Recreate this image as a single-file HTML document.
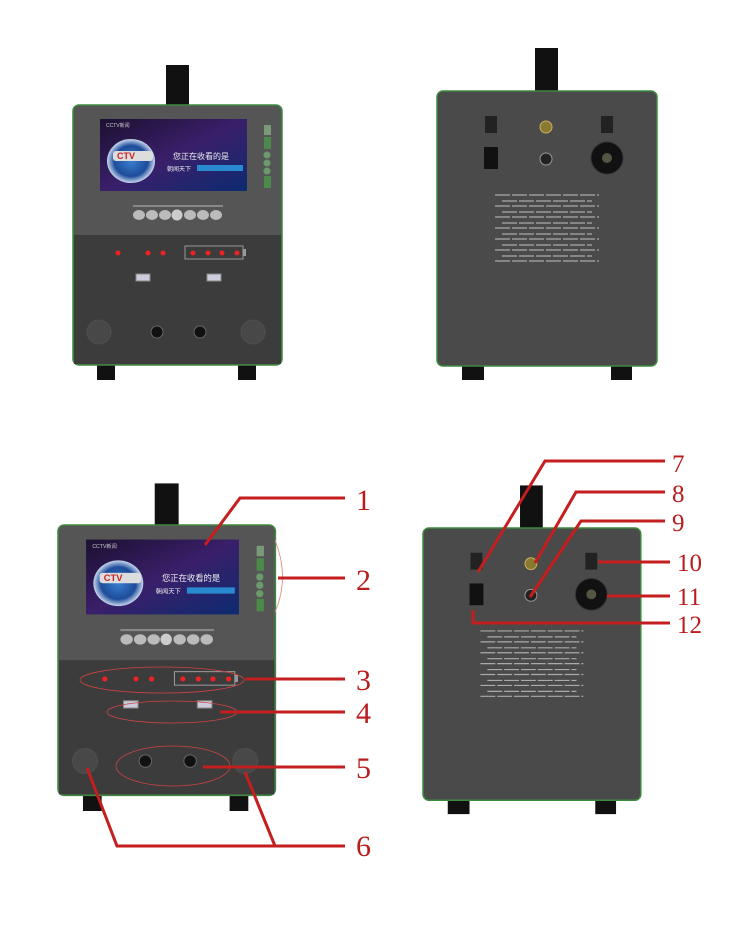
<!DOCTYPE html>
<html><head><meta charset="utf-8"><style>
html,body{margin:0;padding:0;background:#fff;}
svg{display:block}
.num{font-family:"Liberation Serif",serif;font-size:30px;fill:#b81c1c}
</style></head><body>
<svg width="750" height="925" viewBox="0 0 750 925" xmlns="http://www.w3.org/2000/svg">
<defs>
<linearGradient id="scr" x1="0" y1="0" x2="1" y2="1">
<stop offset="0" stop-color="#1b1030"/><stop offset="0.5" stop-color="#3a1f6a"/><stop offset="1" stop-color="#0c2b70"/>
</linearGradient>
<radialGradient id="globe" cx="0.5" cy="0.5" r="0.5">
<stop offset="0" stop-color="#3b7fd0"/><stop offset="0.7" stop-color="#1d4c9a"/><stop offset="1" stop-color="#c8d8ee"/>
</radialGradient>
<g id="front">
<rect x="93" y="-40" width="23" height="42" fill="#111"/>
<rect x="24" y="258" width="18" height="17" fill="#111"/>
<rect x="165" y="258" width="18" height="17" fill="#111"/>
<rect x="0" y="0" width="209" height="260" rx="6" fill="#555" stroke="#3d8a3d" stroke-width="1.5"/>
<rect x="1" y="130" width="207" height="129" fill="#3c3c3c"/>
<rect x="27" y="14" width="147" height="72" fill="url(#scr)"/>
<ellipse cx="58" cy="56" rx="24" ry="22" fill="url(#globe)"/>
<rect x="40" y="46" width="40" height="10" rx="3" fill="#ddd"/>
<text x="44" y="54" font-family="Liberation Sans" font-size="9" font-weight="bold" fill="#c22">CTV</text>
<text x="100" y="54" font-family="Liberation Sans,Noto Sans CJK SC,sans-serif" font-size="8" fill="#eee">您正在收看的是</text>
<text x="94" y="66" font-family="Liberation Sans,Noto Sans CJK SC,sans-serif" font-size="6" fill="#eee">朝闻天下</text>
<rect x="124" y="60" width="46" height="6" fill="#2a8ad0"/>
<text x="33" y="22" font-family="Liberation Sans" font-size="5" fill="#ccc">CCTV新闻</text>
<rect x="191" y="20" width="7" height="10" fill="#7a9a7a"/>
<rect x="191" y="32" width="7" height="12" fill="#4c8a4c"/>
<circle cx="194" cy="50" r="3.5" fill="#6a9a6a"/><circle cx="194" cy="58" r="3.5" fill="#6a9a6a"/><circle cx="194" cy="66" r="3.5" fill="#6a9a6a"/>
<rect x="191" y="71" width="7" height="12" fill="#4c8a4c"/>
<g fill="#bbb"><ellipse cx="66" cy="110" rx="6" ry="5"/><ellipse cx="79" cy="110" rx="6" ry="5"/><ellipse cx="92" cy="110" rx="6" ry="5"/><circle cx="104" cy="110" r="5.5" fill="#ccc"/><ellipse cx="117" cy="110" rx="6" ry="5"/><ellipse cx="130" cy="110" rx="6" ry="5"/><ellipse cx="143" cy="110" rx="6" ry="5"/></g>
<rect x="60" y="100" width="90" height="2" fill="#888"/>
<g fill="#e22"><circle cx="45" cy="148" r="2.5"/><circle cx="75" cy="148" r="2.5"/><circle cx="90" cy="148" r="2.5"/><circle cx="120" cy="148" r="2.5"/><circle cx="135" cy="148" r="2.5"/><circle cx="149" cy="148" r="2.5"/><circle cx="164" cy="148" r="2.5"/></g>
<rect x="112" y="141" width="58" height="13" fill="none" stroke="#999" stroke-width="1"/>
<rect x="170" y="144" width="3" height="7" fill="#999"/>
<rect x="63" y="169" width="14" height="7" fill="#ccd" stroke="#888"/><rect x="134" y="169" width="14" height="7" fill="#ccd" stroke="#888"/>
<circle cx="84" cy="227" r="6" fill="#111" stroke="#666"/><circle cx="127" cy="227" r="6" fill="#111" stroke="#666"/>
<circle cx="26" cy="227" r="12" fill="#484848" stroke="#5a5a5a" stroke-dasharray="1 1"/>
<circle cx="180" cy="227" r="12" fill="#484848" stroke="#5a5a5a" stroke-dasharray="1 1"/>
</g>
<g id="back">
<rect x="98" y="-43" width="23" height="44" fill="#111"/>
<rect x="25" y="273" width="22" height="16" fill="#111"/>
<rect x="174" y="273" width="21" height="16" fill="#111"/>
<rect x="0" y="0" width="220" height="275" rx="6" fill="#4a4a4a" stroke="#3d8a3d" stroke-width="1.5"/>
<rect x="48" y="25" width="12" height="17" fill="#222"/>
<rect x="164" y="25" width="12" height="17" fill="#222"/>
<circle cx="109" cy="36" r="6" fill="#8a7a30" stroke="#cbb060"/>
<rect x="47" y="56" width="14" height="22" fill="#111"/>
<circle cx="109" cy="68" r="6" fill="#222" stroke="#999"/>
<circle cx="170" cy="67" r="16" fill="#111" stroke="#333"/><circle cx="170" cy="67" r="5" fill="#554"/>
<g fill="none" stroke="#aaa" stroke-width="1.2">
<path d="M58,104h104M65,110h90M58,115h104M65,121h90M58,126h104M65,132h90M58,137h104M65,143h90M58,148h104M65,154h90M58,159h104M65,165h90M58,170h104" stroke-dasharray="15 2"/>
</g>
</g>
</defs>
<use href="#front" transform="translate(73,105)"/>
<use href="#back" transform="translate(437,91)"/>
<use href="#front" transform="translate(58,525) scale(1.04)"/>
<use href="#back" transform="translate(423,528) scale(0.99)"/>
<g fill="none" stroke="#c41e1e" stroke-width="3">
<polyline points="205,545 240,498 345,498"/>
<path d="M275,540 Q290,578 275,612" stroke-width="0.8" stroke="#d88"/>
<line x1="278" y1="578" x2="345" y2="578"/>
<ellipse cx="162" cy="680" rx="82" ry="13" stroke-width="0.8" stroke="#c44"/>
<line x1="245" y1="679" x2="345" y2="679"/>
<ellipse cx="172" cy="712" rx="65" ry="11" stroke-width="0.8" stroke="#c44"/>
<line x1="220" y1="712" x2="345" y2="712"/>
<ellipse cx="173" cy="766" rx="57" ry="20" stroke-width="0.8" stroke="#c44"/>
<line x1="203" y1="767" x2="345" y2="767"/>
<polyline points="87,768 117,846 345,846"/>
<line x1="245" y1="772" x2="275" y2="846"/>
<polyline points="478,572 545,461 665,461"/>
<polyline points="535,563 576,492 665,492"/>
<polyline points="530,597 581,521 665,521"/>
<line x1="598" y1="562" x2="670" y2="562"/>
<line x1="607" y1="596" x2="670" y2="596"/>
<polyline points="473,610 473,623 670,623"/>
</g>
<text class="num" x="356" y="510">1</text>
<text class="num" x="356" y="590">2</text>
<text class="num" x="356" y="690">3</text>
<text class="num" x="356" y="723">4</text>
<text class="num" x="356" y="778">5</text>
<text class="num" x="356" y="856">6</text>
<text class="num" x="672" y="472" style="font-size:25px">7</text>
<text class="num" x="672" y="502" style="font-size:25px">8</text>
<text class="num" x="672" y="531" style="font-size:25px">9</text>
<text class="num" x="677" y="571" style="font-size:25px">10</text>
<text class="num" x="677" y="605" style="font-size:25px">11</text>
<text class="num" x="677" y="633" style="font-size:25px">12</text>
</svg>
</body></html>
